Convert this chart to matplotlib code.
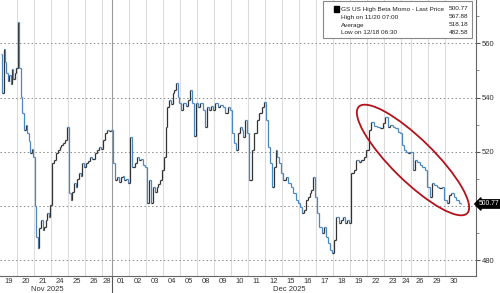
import matplotlib
matplotlib.use('Agg')
import matplotlib.pyplot as plt
from matplotlib.collections import LineCollection
from matplotlib.patches import Ellipse
from matplotlib.ticker import MultipleLocator

plt.rcParams['font.family'] = ['Liberation Sans', 'DejaVu Sans']
plt.rcParams.update({'font.size': 6})

# trading days shown (27 Nov and 25 Dec closed, 28 Nov / 24 Dec half days)
day_labels = ['19', '20', '21', '24', '25', '26', '28', '01', '02', '03', '04', '05',
              '08', '09', '10', '11', '12', '15', '16', '17', '18', '19', '22', '23',
              '24', '26', '29', '30']
half_day_idx = [6, 24]

# intraday prices per session
prices = [
    [556.0, 541.7, 558.0, 553.0, 549.0, 546.0, 548.5, 545.0, 550.5, 547.0, 549.0, 551.0],
    [567.88, 551.0, 540.2, 534.3, 528.0, 530.0, 526.9, 524.0, 519.6, 521.0, 518.1],
    [500.0, 488.6, 484.5, 492.0, 494.8, 491.0, 492.3, 495.0, 497.4, 496.0, 500.4],
    [515.9, 517.0, 519.6, 520.5, 521.8, 522.5, 523.2, 524.5, 529.2],
    [504.8, 502.2, 505.0, 508.5, 507.0, 510.0, 512.2, 511.0, 515.9, 514.4],
    [515.9, 516.5, 518.1, 517.5, 519.6, 520.5, 521.8, 521.0],
    [524.4, 526.9, 528.0, 527.5, 528.0],
    [515.9, 509.6, 510.7, 509.0, 510.7, 511.0, 509.6, 510.0, 508.5],
    [525.5, 514.4, 516.0, 518.1, 517.0, 517.5, 515.0, 514.4],
    [501.1, 509.6, 501.1, 507.0, 505.0, 507.0, 508.0, 509.6, 513.3],
    [518.1, 529.2, 536.5, 539.1, 537.5, 541.7, 542.8, 545.5, 540.2, 538.0],
    [535.4, 538.0, 537.0, 539.1, 542.8, 538.0, 526.0, 538.0],
    [536.5, 538.0, 535.4, 529.2, 536.5, 535.4, 537.0, 535.4],
    [538.0, 536.5, 537.3, 536.5, 534.3, 536.5, 535.4],
    [526.9, 523.2, 520.7, 526.9, 529.2, 528.0, 525.5, 531.7, 526.9],
    [509.6, 520.7, 526.9, 531.7, 534.3, 536.5, 538.4],
    [531.7, 521.8, 515.9, 507.0, 514.4, 520.7, 518.1, 515.9, 512.2],
    [509.6, 510.7, 508.5, 507.0, 504.8, 502.2, 501.1],
    [499.6, 497.4, 498.5, 502.2, 503.3, 504.8, 505.9, 510.7, 503.3],
    [497.4, 492.3, 490.0, 492.3, 488.6, 486.3, 483.8, 482.58],
    [487.5, 495.9, 493.7, 494.8, 495.9, 493.7, 494.8, 493.7],
    [512.2, 513.3, 517.0, 516.2, 517.0, 518.1, 520.7],
    [528.0, 531.0, 529.5, 529.2, 528.8, 530.6],
    [532.8, 529.2, 529.9, 529.2, 528.8, 527.3, 526.9],
    [522.5, 520.7, 519.9, 519.6, 519.9],
    [513.3, 517.0, 516.2, 515.1, 514.4, 513.3, 507.0],
    [503.3, 508.5, 507.7, 507.0, 506.6, 507.0, 502.2],
    [501.1, 504.1, 504.8, 503.3, 502.2, 501.1, 500.77],
]

legend_rows = [('GS US High Beta Momo - Last Price', '500.77'),
               ('High on 11/20 07:00', '567.88'),
               ('Average', '518.18'),
               ('Low on 12/18 06:30', '482.58')]
last_price = 500.77
y_ticks = [480, 500, 520, 540, 560]
month_labels = ['Nov 2025', 'Dec 2025']

fig = plt.figure(figsize=(5, 2.93), dpi=100)
ax = fig.add_axes([0, 0.058, 0.952, 0.942])

# x positions: full session = 1 unit, half session = 0.6
xs, ys, starts, centers = [], [], [], []
pos = 0.0
for i, lab in enumerate(day_labels):
    w = 0.6 if i in half_day_idx else 1.0
    starts.append(pos)
    centers.append(pos + w / 2)
    n = len(prices[i])
    for j, p in enumerate(prices[i]):
        xs.append(pos + (j + 0.5) / n * w)
        ys.append(p)
    pos += w

segs, cols = [], []
for k in range(1, len(xs)):
    segs.append([(xs[k - 1], ys[k - 1]), (xs[k], ys[k - 1])])
    segs.append([(xs[k], ys[k - 1]), (xs[k], ys[k])])
    c = '#333333' if ys[k] >= ys[k - 1] else '#4a86c0'
    cols += [c, c]
ax.add_collection(LineCollection(segs, colors=cols, linewidths=0.9, zorder=3))

# day separators
for i, s in enumerate(starts[1:], start=1):
    if i == 7:
        ax.axvline(s, color='#9a9a9a', lw=0.8, zorder=1)
        ax.plot([s, s], [0, -0.07], color='#555555', lw=0.8,
                transform=ax.get_xaxis_transform(), clip_on=False)
    else:
        ax.axvline(s, color='#dcdcdc', lw=0.8, zorder=1)

for lvl in y_ticks:
    ax.axhline(lvl, color='#8a8a8a', lw=0.7, ls=(0, (1.5, 2.5)), zorder=1)

ax.set_xlim(0, 28.0)
ax.set_ylim(474.2, 576)
ax.set_xticks(centers)
ax.set_xticklabels(day_labels, color='#333333', fontsize=5.5)
ax.tick_params(axis='x', length=0, pad=1.5)
ax.yaxis.tick_right()
ax.set_yticks(y_ticks)
# the 500 label sits under the last-price tag
ax.set_yticklabels(['' if t == 500 else str(t) for t in y_ticks])
ax.yaxis.set_minor_locator(MultipleLocator(10))
ax.tick_params(axis='y', which='major', length=3, width=0.8, color='#555555',
               labelsize=5.5, labelcolor='#333333', pad=1)
ax.tick_params(axis='y', which='minor', length=2, width=0.6, color='#777777')
for side in ['top', 'left']:
    ax.spines[side].set_visible(False)
for side in ['right', 'bottom']:
    ax.spines[side].set_color('#666666')
    ax.spines[side].set_linewidth(0.8)

ax.text(centers[2] + 0.3, -0.036, month_labels[0], transform=ax.get_xaxis_transform(),
        ha='center', va='top', fontsize=5.5, color='#333333')
ax.text(centers[17] - 0.1, -0.036, month_labels[1], transform=ax.get_xaxis_transform(),
        ha='center', va='top', fontsize=5.5, color='#333333')

# last price tag
ax.annotate('500.77', xy=(1.0, last_price), xycoords=('axes fraction', 'data'),
            xytext=(2.2, 0), textcoords='offset points', ha='left', va='center',
            fontsize=4.9, color='white',
            bbox=dict(boxstyle='larrow,pad=0.1', fc='black', ec='black'))

# legend box
lx0, lx1 = 323 / 500, 472 / 500
ly0, ly1 = 1 - 38 / 293, 1 - 1 / 293
fig.patches.append(plt.Rectangle((lx0, ly0), lx1 - lx0, ly1 - ly0, transform=fig.transFigure,
                                 fc='white', ec='#888888', lw=0.8, zorder=5))
fig.patches.append(plt.Rectangle((334 / 500, 1 - 12 / 293), 5 / 500, 6 / 293,
                                 transform=fig.transFigure, fc='black', ec='black', zorder=6))
fig.lines.append(plt.Line2D([331 / 500, 331 / 500], [1 - 9 / 293, 1 - 35 / 293],
                            transform=fig.transFigure, color='#bbbbbb', lw=0.6))
for r, (name, val) in enumerate(legend_rows):
    yy = 1 - (9 + 8 * r) / 293
    if r > 0:
        fig.lines.append(plt.Line2D([331 / 500, 336 / 500], [yy, yy],
                                    transform=fig.transFigure, color='#bbbbbb', lw=0.6))
    fig.text(341 / 500, yy, name, ha='left', va='center', fontsize=4.6, color='#222222', zorder=7)
    fig.text(468 / 500, yy, val, ha='right', va='center', fontsize=4.6, color='#222222', zorder=7)

# red ellipse highlight
fig.patches.append(Ellipse((4.13, 1.33), 1.52, 0.42, angle=-44.5, transform=fig.dpi_scale_trans,
                           fill=False, ec='#b5121b', lw=1.3, zorder=6))

fig.savefig('out.png', dpi=100)
